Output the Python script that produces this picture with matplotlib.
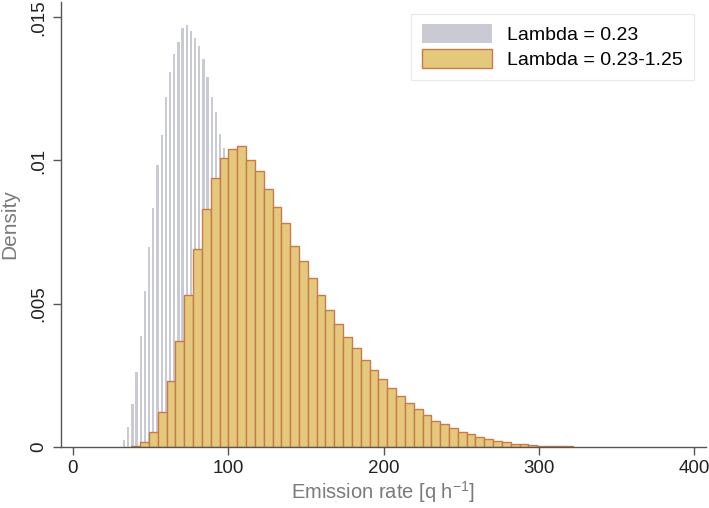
import matplotlib
matplotlib.use("Agg")
import matplotlib.pyplot as plt
import numpy as np
from matplotlib.patches import Patch

plt.rcParams['font.family'] = ['Liberation Sans', 'DejaVu Sans']

# gray histogram (Lambda = 0.23): bin start and width, densities
gray_start = 32.9
gray_width = 2.688
gray_density = [0.00021, 0.00067, 0.00149, 0.00259, 0.00386, 0.00543, 0.00699,
                0.00833, 0.00984, 0.01088, 0.01221, 0.01311, 0.01372, 0.01413,
                0.01465, 0.01473, 0.01454, 0.01430, 0.01401, 0.01355, 0.01291,
                0.01221, 0.01169, 0.01094, 0.01042,
                # tail mostly hidden behind the yellow bars
                0.0098, 0.0092, 0.0086, 0.0080, 0.0074, 0.0068, 0.0062, 0.0056,
                0.0050, 0.0045, 0.0040, 0.0035, 0.0031, 0.0027, 0.0023, 0.0020,
                0.0017, 0.0014, 0.0012, 0.0010, 0.0008, 0.0006, 0.0005, 0.0004,
                0.0003, 0.0002, 0.0001]

# yellow histogram (Lambda = 0.23-1.25)
yellow_start = 37.6
yellow_width = 5.68
yellow_density = [0.00003, 0.00015, 0.0005, 0.0012, 0.0023, 0.0037, 0.0053,
                  0.0069, 0.0083, 0.0094, 0.0101, 0.0104, 0.0105, 0.0100,
                  0.00965, 0.0090, 0.00836, 0.0078, 0.0070, 0.00647, 0.00588,
                  0.00528, 0.00477, 0.00429, 0.00384, 0.00343, 0.00303, 0.00267,
                  0.00236, 0.00204, 0.00176, 0.00152, 0.00131, 0.00110, 0.00089,
                  0.00077, 0.00063, 0.00052, 0.00042, 0.00034, 0.00025, 0.0002,
                  0.00015, 0.0001, 0.00007, 0.00005, 0.00003, 0.00002, 0.000015,
                  0.00001]

x_ticks = [0, 100, 200, 300, 400]
y_ticks = [0, 0.005, 0.01, 0.015]
y_labels = ['0', '.005', '.01', '.015']

gray_col = '#c9cad4'
fill_col = '#e4c97c'
edge_col = '#c9794c'
label_col = '#7a7a7a'

fig = plt.figure(figsize=(7.09, 5.08), dpi=100)
ax = fig.add_axes([61/709, (508-446.5)/508, (706-61)/709, (446.5-2)/508])

gx = gray_start + gray_width*np.arange(len(gray_density))
ax.bar(gx, gray_density, width=gray_width*0.55, color=gray_col, linewidth=0)

yx = yellow_start + yellow_width*np.arange(len(yellow_density))
ax.bar(yx, yellow_density, width=yellow_width, align='edge', color=fill_col,
       edgecolor=edge_col, linewidth=1.0)

ax.set_xlim(-7.7, 407.5)
ax.set_ylim(0, 0.015*(446.5-2)/(446.5-17.5))
ax.set_xticks(x_ticks)
ax.set_yticks(y_ticks)
ax.set_yticklabels(y_labels, rotation=90, va='center')
ax.tick_params(labelsize=13.5, colors='#222222', length=6, width=1.0)
ax.tick_params(axis='y', pad=4)
for s in ['top', 'right']:
    ax.spines[s].set_visible(False)
for s in ['left', 'bottom']:
    ax.spines[s].set_color('#555555')
    ax.spines[s].set_linewidth(1.0)
ax.tick_params(color='#555555')

ax.set_xlabel('Emission rate [q h$\\mathregular{^{-1}}$]', fontsize=14.5,
              color=label_col, labelpad=2)
ax.set_ylabel('Density', fontsize=15, color=label_col, labelpad=8)

handles = [Patch(facecolor=gray_col, edgecolor='none', label='Lambda = 0.23'),
           Patch(facecolor=fill_col, edgecolor=edge_col, label='Lambda = 0.23-1.25')]
leg = ax.legend(handles=handles, loc='upper right', bbox_to_anchor=(0.996, 0.996),
                fontsize=14, frameon=True, fancybox=False, handlelength=3.6,
                handleheight=1.1, borderpad=0.55, labelspacing=0.25,
                handletextpad=0.8)
leg.get_frame().set_edgecolor('#e4e4e4')
leg.get_frame().set_linewidth(0.8)

fig.savefig('out.png', dpi=100)
